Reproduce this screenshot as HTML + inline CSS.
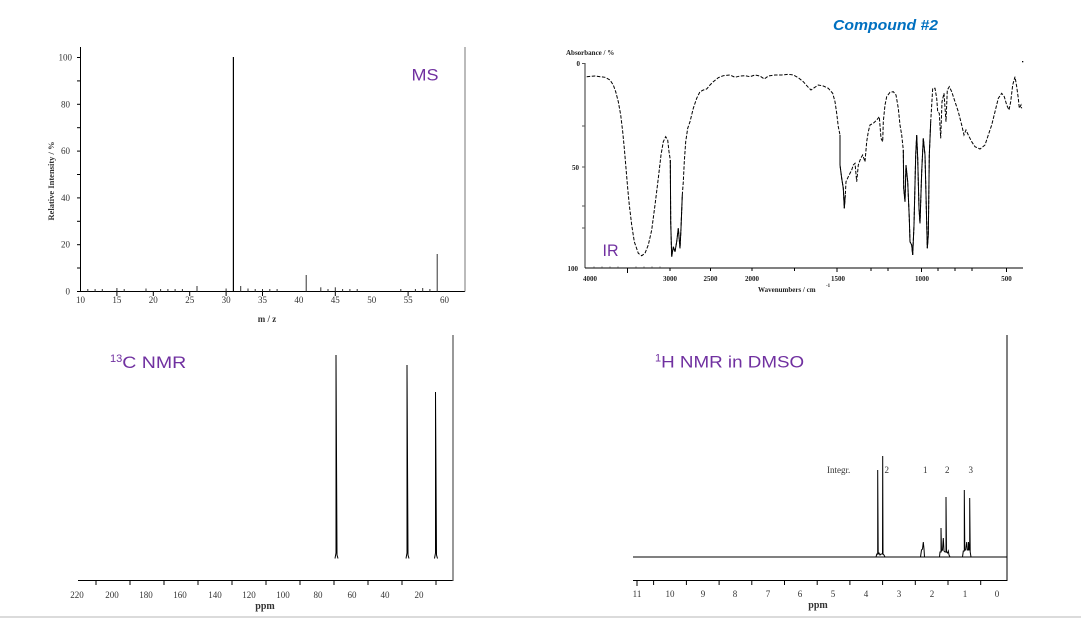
<!DOCTYPE html>
<html><head><meta charset="utf-8"><style>
html,body{margin:0;padding:0;background:#fff;}
svg{display:block;}
.t{font-family:"Liberation Serif",serif;font-size:9px;fill:#333;}
.tb{font-family:"Liberation Serif",serif;font-size:7px;font-weight:bold;fill:#222;}
.lab{font-family:"Liberation Sans",sans-serif;fill:#7030A0;}
</style></head><body>
<svg width="1081" height="620" viewBox="0 0 1081 620" xmlns="http://www.w3.org/2000/svg">
<rect width="1081" height="620" fill="#fff"/>

<!-- ================= MS ================= -->
<g stroke="#000" stroke-width="1" fill="none">
  <line x1="80.5" y1="47" x2="80.5" y2="291.5"/>
  <line x1="80.5" y1="291.5" x2="465" y2="291.5"/>
</g>
<line x1="465" y1="47" x2="465" y2="291.5" stroke="#777" stroke-width="1"/>
<!-- y ticks -->
<g stroke="#000" stroke-width="1">
  <line x1="77" y1="291.5" x2="80.5" y2="291.5"/>
  <line x1="77" y1="268" x2="80.5" y2="268"/>
  <line x1="77" y1="244.7" x2="80.5" y2="244.7"/>
  <line x1="77" y1="221.3" x2="80.5" y2="221.3"/>
  <line x1="77" y1="197.9" x2="80.5" y2="197.9"/>
  <line x1="77" y1="174.5" x2="80.5" y2="174.5"/>
  <line x1="77" y1="151.1" x2="80.5" y2="151.1"/>
  <line x1="77" y1="127.7" x2="80.5" y2="127.7"/>
  <line x1="77" y1="104.3" x2="80.5" y2="104.3"/>
  <line x1="77" y1="80.9" x2="80.5" y2="80.9"/>
  <line x1="77" y1="57.5" x2="80.5" y2="57.5"/>
</g>
<g class="t" text-anchor="end">
  <text x="70" y="294.5">0</text>
  <text x="70" y="247.7">20</text>
  <text x="70" y="200.9">40</text>
  <text x="70" y="154.1">60</text>
  <text x="70" y="107.3">80</text>
  <text x="72" y="60.5">100</text>
</g>
<text class="t" transform="translate(54,181) rotate(-90)" text-anchor="middle" style="font-weight:bold;font-size:8.5px">Relative Intensity / %</text>
<!-- x ticks (major below) -->
<g stroke="#000" stroke-width="1">
  <line x1="116.9" y1="291.5" x2="116.9" y2="296"/>
  <line x1="153.3" y1="291.5" x2="153.3" y2="296"/>
  <line x1="189.7" y1="291.5" x2="189.7" y2="296"/>
  <line x1="226.1" y1="291.5" x2="226.1" y2="296"/>
  <line x1="262.5" y1="291.5" x2="262.5" y2="296"/>
  <line x1="335.3" y1="291.5" x2="335.3" y2="296"/>
  <line x1="408.1" y1="291.5" x2="408.1" y2="296"/>
</g>
<!-- small peaks -->
<g stroke="#333" stroke-width="1">
  <line x1="87.8" y1="291.5" x2="87.8" y2="289"/>
  <line x1="95.1" y1="291.5" x2="95.1" y2="289"/>
  <line x1="102.3" y1="291.5" x2="102.3" y2="289"/>
  <line x1="116.9" y1="291.5" x2="116.9" y2="288"/>
  <line x1="124.2" y1="291.5" x2="124.2" y2="289"/>
  <line x1="146" y1="291.5" x2="146" y2="288.5"/>
  <line x1="160.6" y1="291.5" x2="160.6" y2="289"/>
  <line x1="167.9" y1="291.5" x2="167.9" y2="289"/>
  <line x1="175.1" y1="291.5" x2="175.1" y2="289"/>
  <line x1="182.4" y1="291.5" x2="182.4" y2="289"/>
  <line x1="197" y1="291.5" x2="197" y2="286"/>
  <line x1="226.1" y1="291.5" x2="226.1" y2="288.5"/>
  <line x1="240.7" y1="291.5" x2="240.7" y2="286"/>
  <line x1="248" y1="291.5" x2="248" y2="288.5"/>
  <line x1="255.2" y1="291.5" x2="255.2" y2="289"/>
  <line x1="262.5" y1="291.5" x2="262.5" y2="289"/>
  <line x1="269.8" y1="291.5" x2="269.8" y2="289"/>
  <line x1="277.1" y1="291.5" x2="277.1" y2="289"/>
  <line x1="306.2" y1="291.5" x2="306.2" y2="275"/>
  <line x1="320.8" y1="291.5" x2="320.8" y2="287.3"/>
  <line x1="328" y1="291.5" x2="328" y2="289"/>
  <line x1="335.3" y1="291.5" x2="335.3" y2="287.3"/>
  <line x1="342.6" y1="291.5" x2="342.6" y2="289"/>
  <line x1="349.9" y1="291.5" x2="349.9" y2="289"/>
  <line x1="357.2" y1="291.5" x2="357.2" y2="289"/>
  <line x1="400.8" y1="291.5" x2="400.8" y2="289"/>
  <line x1="415.4" y1="291.5" x2="415.4" y2="289"/>
  <line x1="422.7" y1="291.5" x2="422.7" y2="288"/>
  <line x1="429.9" y1="291.5" x2="429.9" y2="289"/>
  <line x1="437.2" y1="291.5" x2="437.2" y2="254"/>
</g>
<line x1="233.4" y1="291.5" x2="233.4" y2="57" stroke="#000" stroke-width="1.2"/>
<g class="t" text-anchor="middle">
  <text x="80.5" y="303">10</text>
  <text x="116.9" y="303">15</text>
  <text x="153.3" y="303">20</text>
  <text x="189.7" y="303">25</text>
  <text x="226.1" y="303">30</text>
  <text x="262.5" y="303">35</text>
  <text x="298.9" y="303">40</text>
  <text x="335.3" y="303">45</text>
  <text x="371.7" y="303">50</text>
  <text x="408.1" y="303">55</text>
  <text x="444.5" y="303">60</text>
</g>
<text class="t" x="267" y="322" text-anchor="middle" style="font-weight:bold">m / z</text>
<text class="lab" x="411.5" y="80.7" font-size="17" textLength="27" lengthAdjust="spacingAndGlyphs">MS</text>

<!-- ================= IR ================= -->
<text x="833" y="30" font-family="'Liberation Sans',sans-serif" font-size="15" font-weight="bold" font-style="italic" fill="#0070C0" textLength="105" lengthAdjust="spacingAndGlyphs">Compound #2</text>
<text class="tb" x="566" y="55">Absorbance / %</text>
<line x1="585" y1="63" x2="585" y2="268" stroke="#777" stroke-width="1.5"/>
<line x1="585" y1="268" x2="1023" y2="268" stroke="#000" stroke-width="1"/>
<g stroke="#555" stroke-width="1">
  <line x1="582" y1="63.5" x2="585" y2="63.5"/>
  <line x1="582" y1="126" x2="585" y2="126"/>
  <line x1="582" y1="167" x2="585" y2="167"/>
  <line x1="582" y1="206" x2="585" y2="206"/>
  <line x1="582" y1="228" x2="585" y2="228"/>
</g>
<g class="tb" text-anchor="end">
  <text x="580" y="66">0</text>
  <text x="579" y="170">50</text>
  <text x="578" y="271">100</text>
</g>
<g stroke="#000" stroke-width="1">
  <line x1="627.5" y1="268" x2="627.5" y2="273"/>
  <line x1="670" y1="268" x2="670" y2="271"/>
  <line x1="710.5" y1="268" x2="710.5" y2="271"/>
  <line x1="752" y1="268" x2="752" y2="271"/>
  <line x1="794.5" y1="268" x2="794.5" y2="271"/>
  <line x1="837" y1="268" x2="837" y2="272"/>
  <line x1="871" y1="268" x2="871" y2="271"/>
  <line x1="888" y1="268" x2="888" y2="271"/>
  <line x1="921.5" y1="268" x2="921.5" y2="272"/>
  <line x1="938" y1="268" x2="938" y2="271"/>
  <line x1="955" y1="268" x2="955" y2="271"/>
  <line x1="972" y1="268" x2="972" y2="271"/>
  <line x1="1006.5" y1="268" x2="1006.5" y2="272"/>
</g>
<g stroke="#444" stroke-width="0.8">
  <line x1="594" y1="268" x2="594" y2="266.5"/>
  <line x1="602" y1="268" x2="602" y2="266.5"/>
  <line x1="610" y1="268" x2="610" y2="266.5"/>
  <line x1="618" y1="268" x2="618" y2="266.5"/>
  <line x1="636" y1="268" x2="636" y2="266.5"/>
  <line x1="644" y1="268" x2="644" y2="266.5"/>
  <line x1="652" y1="268" x2="652" y2="266.5"/>
  <line x1="660" y1="268" x2="660" y2="266.5"/>
</g>
<g class="tb" text-anchor="middle">
  <text x="590" y="281">4000</text>
  <text x="670" y="281">3000</text>
  <text x="710.5" y="281">2500</text>
  <text x="752" y="281">2000</text>
  <text x="838" y="281">1500</text>
  <text x="922" y="281">1000</text>
  <text x="1006.5" y="281">500</text>
</g>
<text class="tb" x="758" y="292">Wavenumbers / cm</text>
<text class="tb" x="826" y="287" style="font-size:5px">-1</text>
<path fill="none" stroke="#000" stroke-width="1" stroke-dasharray="3.5 1.6"
d="M586.7,76.7 L595,76 L605,77.3 L610,80 L613.3,85 L615.7,91.7 L618.3,101.7 L620.7,115 L622.7,131.7 L624.3,148.3 L626,168.3 L627.7,188.3 L629.3,205 L631.7,225 L634.3,241.7 L638.3,253.3 L641.7,255.7 L645,253.3 L648.3,245 L651.7,230 L655,205 L658.3,178.3 L661,155 L663.3,141.7 L665.7,136.7 L667.7,140 L669,151.7 L670.3,160 L670.7,221.7 L671.7,256.7 L673.3,246.7 L675,251.7 L676.7,241.7 L678.3,228.3 L680,248.3 L681,228.3 L682.3,195 L683.3,181.7 L684.3,161.7 L685.7,141.7 L687.7,128.3 L690,121.7 L693.3,108.3 L696.7,98.3 L700,91.7 L703.3,90 L706.7,89 L710,85 L713.3,81.7 L718.3,77.7 L723.3,75.7 L730,75 L735,77.3 L740,76 L745,75.7 L750,76.7 L755,75 L760,76 L764.3,79 L768.3,76 L775,75 L781.7,75 L788.3,74.3 L793.3,75 L798.3,77.7 L803.3,81.7 L807.7,86.7 L811,90 L814.3,87.7 L818.3,85 L823.3,86 L828.3,88.3 L832.7,93.3 L835,101.7 L836.7,113.3 L838.3,126.7 L840,135 L840,165 L841.7,178.3 L843.3,188.3 L844.3,208.3 L845.3,195 L846,181.7 L848.3,176.7 L851.7,170 L853.3,165 L855,163.3 L856.7,181.7 L858.3,165 L860.7,158.3 L862.7,155 L865,161.7 L866.7,141.7 L868.3,131.7 L870,125 L873.3,123.3 L876.7,120 L879.3,116.7 L881,138.3 L882.7,141.7 L883.3,121.7 L885,105 L886.7,96.7 L890,92.3 L893.3,91.7 L896,95 L898.3,108.3 L900,125 L901.7,135 L903.3,150 L903.7,188.3 L905,201.7 L906,165 L907.7,181.7 L909.3,218.3 L910,241.7 L911.7,245 L912.7,255 L914,225 L915.7,155 L916.7,135 L917.7,158.3 L919,208.3 L920,223.3 L921.7,171.7 L923.3,138.3 L925,155 L926,195 L927.3,248.3 L928.3,235 L929.3,155 L930.7,121.7 L932.7,88.3 L935,88.3 L936.7,98.3 L937.7,111.7 L939.3,113.3 L940.7,138.3 L942,101.7 L944,93.3 L946,121.7 L947.3,90 L949.3,86.7 L951.7,91.7 L955,101.7 L958.3,111.7 L961.7,125 L964,135 L966,130 L968.3,135 L971.7,141.7 L975,146.7 L980,149 L985,145 L988.3,135 L991.7,125 L995,111.7 L998.3,98.3 L1001.7,93.3 L1004.3,96.7 L1006.7,105 L1009,110 L1010.7,101.7 L1012.7,85 L1015,76.7 L1016.7,86.7 L1018.3,98.3 L1019.3,108.3 L1021,105 L1021.7,108.3"/>
<!-- solid sharp spikes -->
<g fill="none" stroke="#000" stroke-width="1">
  <polyline points="670.3,160 670.7,221.7 671.7,256.7 673.3,246.7 675,251.7 676.7,241.7 678.3,228.3 680,248.3 681,228.3 682.3,195"/>
  <polyline points="840,135 840,165 841.7,178.3 843.3,188.3 844.3,208.3 845.3,195"/>
  <polyline points="903.3,150 903.7,188.3 905,201.7 906,165 907.7,181.7 909.3,218.3 910,241.7 911.7,245 912.7,255 914,225 915.7,155 916.7,135 917.7,158.3 919,208.3 920,223.3 921.7,171.7 923.3,138.3 925,155 926,195 927.3,248.3 928.3,235 929.3,155 930.7,121.7"/>
</g>
<rect x="1022" y="61" width="1.3" height="1.3" fill="#000"/>
<text class="lab" x="602.5" y="256" font-size="17" textLength="16" lengthAdjust="spacingAndGlyphs">IR</text>

<!-- ================= 13C NMR ================= -->
<line x1="78" y1="580.5" x2="453" y2="580.5" stroke="#000" stroke-width="1"/>
<line x1="453" y1="335" x2="453" y2="581" stroke="#555" stroke-width="1.2"/>
<g stroke="#000" stroke-width="1">
  <line x1="96" y1="580.5" x2="96" y2="585"/>
  <line x1="130" y1="580.5" x2="130" y2="585"/>
  <line x1="164" y1="580.5" x2="164" y2="585"/>
  <line x1="198" y1="580.5" x2="198" y2="585"/>
  <line x1="232" y1="580.5" x2="232" y2="585"/>
  <line x1="266" y1="580.5" x2="266" y2="585"/>
  <line x1="300" y1="580.5" x2="300" y2="585"/>
  <line x1="334" y1="580.5" x2="334" y2="585"/>
  <line x1="368" y1="580.5" x2="368" y2="585"/>
  <line x1="402" y1="580.5" x2="402" y2="585"/>
  <line x1="436" y1="580.5" x2="436" y2="585"/>
</g>
<g class="t" text-anchor="middle">
  <text x="77" y="598">220</text>
  <text x="112" y="598">200</text>
  <text x="146" y="598">180</text>
  <text x="180" y="598">160</text>
  <text x="215" y="598">140</text>
  <text x="249" y="598">120</text>
  <text x="283" y="598">100</text>
  <text x="318" y="598">80</text>
  <text x="352" y="598">60</text>
  <text x="385" y="598">40</text>
  <text x="419" y="598">20</text>
</g>
<text class="t" x="265" y="609" text-anchor="middle" style="font-weight:bold;font-size:10px">ppm</text>
<g fill="none" stroke="#000" stroke-width="1">
  <polyline points="335,558.5 336,553 336,355 337,555 338,558.5"/>
  <polyline points="406,558.5 407,553 407,365 408,555 409,558.5"/>
  <polyline points="434.5,558.5 435.5,553 435.5,392 436.5,555 437.5,558.5"/>
</g>
<text class="lab" x="110" y="368"><tspan font-size="11" dy="-6">13</tspan><tspan font-size="17" dy="6" textLength="64" lengthAdjust="spacingAndGlyphs">C NMR</tspan></text>

<!-- ================= 1H NMR ================= -->
<line x1="633" y1="580.5" x2="1007" y2="580.5" stroke="#000" stroke-width="1"/>
<line x1="1007" y1="335" x2="1007" y2="581" stroke="#000" stroke-width="1"/>
<line x1="633" y1="557" x2="1007" y2="557" stroke="#000" stroke-width="1"/>
<g stroke="#000" stroke-width="1">
  <line x1="637" y1="580.5" x2="637" y2="586"/>
  <line x1="653.6" y1="580.5" x2="653.6" y2="585"/>
  <line x1="686.4" y1="580.5" x2="686.4" y2="585"/>
  <line x1="719.1" y1="580.5" x2="719.1" y2="585"/>
  <line x1="751.8" y1="580.5" x2="751.8" y2="585"/>
  <line x1="784.5" y1="580.5" x2="784.5" y2="585"/>
  <line x1="817.2" y1="580.5" x2="817.2" y2="585"/>
  <line x1="849.9" y1="580.5" x2="849.9" y2="585"/>
  <line x1="882.6" y1="580.5" x2="882.6" y2="585"/>
  <line x1="915.3" y1="580.5" x2="915.3" y2="585"/>
  <line x1="948" y1="580.5" x2="948" y2="585"/>
  <line x1="980.7" y1="580.5" x2="980.7" y2="585"/>
</g>
<g class="t" text-anchor="middle">
  <text x="637" y="597">11</text>
  <text x="670" y="597">10</text>
  <text x="703" y="597">9</text>
  <text x="735" y="597">8</text>
  <text x="768" y="597">7</text>
  <text x="800" y="597">6</text>
  <text x="833" y="597">5</text>
  <text x="866" y="597">4</text>
  <text x="899" y="597">3</text>
  <text x="932" y="597">2</text>
  <text x="965" y="597">1</text>
  <text x="997" y="597">0</text>
</g>
<text class="t" x="818" y="608" text-anchor="middle" style="font-weight:bold;font-size:10px">ppm</text>
<g fill="none" stroke="#000" stroke-width="1">
  <polyline points="876,557 876.8,554 877.7,554 877.7,470 878.2,554 879,553 880,555 881,554 882.5,554 882.7,456 883,554 884,555 885,557"/>
  <polyline points="920.5,557 921.5,550 922.5,549 923.3,542 924,549 924.5,557"/>
  <polyline points="939.5,557 940,552 941,552 941,528 941.5,551 942.5,550 943.3,538 944,551 945,552 946,552 946,497 946.5,552 947.5,553 948.3,551 949,555 950,557"/>
  <polyline points="962.5,557 963.3,551 964.3,551 964.3,490 964.8,550 965.8,550 966.7,542 967.5,550 968.5,550 968.5,542 969.2,550 969.7,550 969.7,498 970.2,552 971,557"/>
</g>
<g class="t" style="font-size:9px">
  <text x="827" y="473">Integr.</text>
  <text x="884.5" y="473">2</text>
  <text x="923" y="473">1</text>
  <text x="945" y="473">2</text>
  <text x="968.5" y="473">3</text>
</g>
<text class="lab" x="655" y="367.5"><tspan font-size="11" dy="-6">1</tspan><tspan font-size="17" dy="6" textLength="143" lengthAdjust="spacingAndGlyphs">H NMR in DMSO</tspan></text>

<!-- bottom separator -->
<line x1="0" y1="617" x2="1081" y2="617" stroke="#cfcfcf" stroke-width="1.5"/>
</svg>
</body></html>
